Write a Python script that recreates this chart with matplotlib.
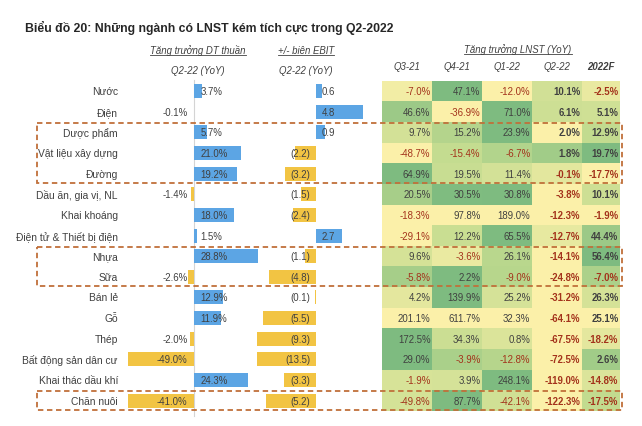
import matplotlib
matplotlib.use("Agg")
import matplotlib.pyplot as plt
import numpy as np
from matplotlib.colors import LinearSegmentedColormap
from matplotlib.patches import Rectangle

plt.rcParams['font.family'] = ['Liberation Sans', 'DejaVu Sans']

# ---------------- data ----------------
title = "Biểu đồ 20: Những ngành có LNST kém tích cực trong Q2-2022"
sectors = ["Nước", "Điện", "Dược phẩm", "Vật liệu xây dựng", "Đường",
           "Dầu ăn, gia vị, NL", "Khai khoáng", "Điện tử & Thiết bị điện",
           "Nhựa", "Sữa", "Bán lẻ", "Gỗ", "Thép", "Bất động sản dân cư",
           "Khai thác dầu khí", "Chăn nuôi"]
dt_growth = [3.7, -0.1, 5.7, 21.0, 19.2, -1.4, 18.0, 1.5, 28.8, -2.6,
             12.9, 11.9, -2.0, -49.0, 24.3, -41.0]
ebit_change = [0.6, 4.8, 0.9, -2.2, -3.2, -1.5, -2.4, 2.7, -1.1, -4.8,
               -0.1, -5.5, -9.3, -13.5, -3.3, -5.2]
periods = ["Q3-21", "Q4-21", "Q1-22", "Q2-22", "2022F"]
q3_21 = [-7.0, 46.6, 9.7, -48.7, 64.9, 20.5, -18.3, -29.1, 9.6, -5.8,
         4.2, 201.1, 172.5, 29.0, -1.9, -49.8]
q4_21 = [47.1, -36.9, 15.2, -15.4, 19.5, 30.5, 97.8, 12.2, -3.6, 2.2,
         139.9, 611.7, 34.3, -3.9, 3.9, 87.7]
q1_22 = [-12.0, 71.0, 23.9, -6.7, 11.4, 30.8, 189.0, 65.5, 26.1, -9.0,
         25.2, 32.3, 0.8, -12.8, 248.1, -42.1]
q2_22 = [10.1, 6.1, 2.0, 1.8, -0.1, -3.8, -12.3, -12.7, -14.1, -24.8,
         -31.2, -64.1, -67.5, -72.5, -119.0, -122.3]
f2022 = [-2.5, 5.1, 12.9, 19.7, -17.7, 10.1, -1.9, 44.4, 56.4, -7.0,
         26.3, 25.1, -18.2, 2.6, -14.8, -17.5]
bold_periods = ["Q2-22", "2022F"]
uncoloured_rows = ["Khai khoáng", "Gỗ"]
boxed_groups = [("Dược phẩm", "Đường"), ("Nhựa", "Sữa"), ("Chăn nuôi", "Chăn nuôi")]

# ---------------- layout (pixels) ----------------
W, H = 642, 427
fig = plt.figure(figsize=(W / 100, H / 100), dpi=100)
fig.patch.set_facecolor("white")

ROW_TOP, ROW_BOT = 81.7, 412.0
n = len(sectors)
row_h = (ROW_BOT - ROW_TOP) / n


def px_axes(x0, x1, y0, y1):
    return fig.add_axes([x0 / W, 1 - y1 / H, (x1 - x0) / W, (y1 - y0) / H])


BLUE = "#5CA5E4"
YELLOW = "#F2C443"
TXT = "#404040"
NEG_TXT = "#A3321B"
BOX = "#C0703A"
FS_VAL = 6.9

# ---- DT growth bars ----
dt_zero, dt_scale = 194.0, 2.23   # px, px per unit
dt_half = 66.0 / dt_scale
ax_dt = px_axes(dt_zero - 66, dt_zero + 66, ROW_TOP, ROW_BOT)
ax_dt.set_xlim(-dt_half, dt_half)
ax_dt.set_ylim(n - 0.5, -0.5)
ax_dt.axis("off")
ax_dt.patch.set_alpha(0)
ypos = np.arange(n)
ax_dt.barh(ypos, dt_growth, height=0.68,
           color=[BLUE if v >= 0 else YELLOW for v in dt_growth], zorder=2)
ax_dt.plot([0, 0], [-0.55, n - 0.25], color="#D4D4D4", lw=0.8, clip_on=False, zorder=1)
off = 6.5 / dt_scale
for i, v in enumerate(dt_growth):
    if v >= 0:
        ax_dt.text(off, i, f"{v:.1f}%", ha="left", va="center", fontsize=FS_VAL,
                   color=TXT, zorder=3, clip_on=False)
    else:
        ax_dt.text(-off, i, f"{v:.1f}%", ha="right", va="center", fontsize=FS_VAL,
                   color=TXT, zorder=3, clip_on=False)

# ---- EBIT bars ----
eb_zero, eb_scale = 316.0, 9.7
eb_half = 59.0 / eb_scale
ax_eb = px_axes(eb_zero - 59, eb_zero + 59, ROW_TOP, ROW_BOT)
ax_eb.set_xlim(-eb_half, eb_half)
ax_eb.set_ylim(n - 0.5, -0.5)
ax_eb.axis("off")
ax_eb.patch.set_alpha(0)
ax_eb.barh(ypos, ebit_change, height=0.68,
           color=[BLUE if v >= 0 else YELLOW for v in ebit_change], zorder=2)
off = 6.0 / eb_scale
for i, v in enumerate(ebit_change):
    if v >= 0:
        ax_eb.text(off, i, f"{v:.1f}", ha="left", va="center", fontsize=FS_VAL,
                   color=TXT, zorder=3, clip_on=False)
    else:
        ax_eb.text(-off, i, f"({abs(v):.1f})", ha="right", va="center",
                   fontsize=FS_VAL, color=TXT, zorder=3, clip_on=False)

# ---- heatmap ----
col_edges = np.array([0, 50, 100, 150, 200, 238])
HM_X0 = 382.0
ax_hm = px_axes(HM_X0, HM_X0 + col_edges[-1], ROW_TOP, ROW_BOT)
vals = np.column_stack([q3_21, q4_21, q1_22, q2_22, f2022])
shade = np.zeros_like(vals)
for i, s in enumerate(sectors):
    if s in uncoloured_rows:
        continue
    r = vals[i]
    shade[i] = (r - r.min()) / (r.max() - r.min())
cmap = LinearSegmentedColormap.from_list("yg", ["#FBF0A9", "#C2DB8F", "#7EBB80"])
ax_hm.pcolormesh(col_edges, np.arange(n + 1), shade, cmap=cmap, vmin=0, vmax=1,
                 shading="flat")
ax_hm.set_xlim(col_edges[0], col_edges[-1])
ax_hm.set_ylim(n, 0)
ax_hm.axis("off")
for i in range(n):
    for j, p in enumerate(periods):
        v = vals[i, j]
        ax_hm.text(col_edges[j + 1] - 1.5, i + 0.5, f"{v:.1f}%", ha="right",
                   va="center", fontsize=FS_VAL,
                   fontweight="bold" if p in bold_periods else "normal",
                   color=NEG_TXT if v < 0 else TXT)

# ---- overlay for text & boxes ----
ov = fig.add_axes([0, 0, 1, 1])
ov.set_xlim(0, W)
ov.set_ylim(H, 0)
ov.axis("off")
ov.patch.set_alpha(0)


def row_y(i):
    return ROW_TOP + row_h * (i + 0.5)


ov.text(25, 32, title, fontsize=8.8, fontweight="bold", color="#262626",
        ha="left", va="baseline")

for i, s in enumerate(sectors):
    ov.text(118, row_y(i), s, ha="right", va="center", fontsize=7.4, color=TXT)

hdr_color = "#404040"
underlined = []
underlined.append(ov.text(198, 54.5, "Tăng trưởng DT thuần", ha="center",
                          va="baseline", fontsize=6.9, style="italic", color=hdr_color))
underlined.append(ov.text(306, 54.5, "+/- biên EBIT", ha="center", va="baseline",
                          fontsize=6.9, style="italic", color=hdr_color))
underlined.append(ov.text(518, 53.0, "Tăng trưởng LNST (YoY)", ha="center",
                          va="baseline", fontsize=6.9, style="italic", color=hdr_color))
ov.text(198, 74.5, "Q2-22 (YoY)", ha="center", va="baseline", fontsize=6.9,
        style="italic", color=hdr_color)
ov.text(306, 74.5, "Q2-22 (YoY)", ha="center", va="baseline", fontsize=6.9,
        style="italic", color=hdr_color)
for j, p in enumerate(periods):
    cx = HM_X0 + (col_edges[j] + col_edges[j + 1]) / 2
    ov.text(cx, 70.5, p, ha="center", va="baseline", fontsize=6.9, style="italic",
            fontweight="bold" if p == "2022F" else "normal", color=hdr_color)

fig.canvas.draw()
inv = ov.transData.inverted()
for t in underlined:
    bb = t.get_window_extent()
    (x0, _), (x1, _) = inv.transform([[bb.x0, bb.y0], [bb.x1, bb.y1]])
    yb = t.get_position()[1] + 1.8
    ov.plot([x0, x1], [yb, yb], color=hdr_color, lw=0.6)

for a, b in boxed_groups:
    i0, i1 = sectors.index(a), sectors.index(b)
    y0 = ROW_TOP + row_h * i0 + 0.8
    y1 = ROW_TOP + row_h * (i1 + 1) - 1.2
    ov.add_patch(Rectangle((37, y0), 622 - 37, y1 - y0, fill=False, edgecolor=BOX,
                           lw=1.3, ls=(0, (3, 2)), zorder=5))

fig.savefig("out.png", dpi=100, facecolor="white")
